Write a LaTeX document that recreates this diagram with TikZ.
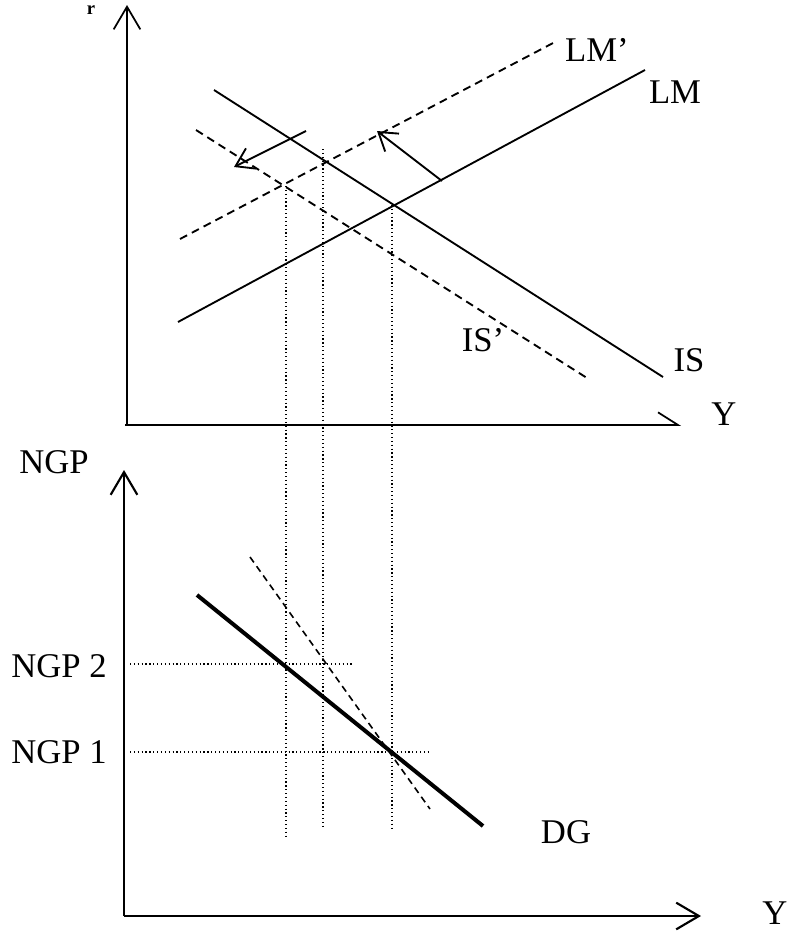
\documentclass[tikz,border=0pt]{standalone}
\usepackage{fontspec}
\setmainfont{Liberation Serif}
\usetikzlibrary{arrows.meta}

\begin{document}
\begin{tikzpicture}[x=0.75pt, y=-0.75pt,
        axis/.style={line width=1.3pt, -{Straight Barb[length=17pt, width=20pt]}},
        halfaxis/.style={line width=1.3pt, -{Straight Barb[harpoon, length=15pt, width=19pt]}},
        curve/.style={line width=1.4pt},
        shifted/.style={line width=1.4pt, dash pattern=on 6pt off 4pt},
        move/.style={line width=1.4pt, -{Straight Barb[length=13pt, width=17pt]}},
        guide/.style={line width=0.9pt, dotted},
        lbl/.style={font=\fontsize{26}{30}\selectfont, inner sep=0pt}
    ]
        \useasboundingbox (0,0) rectangle (804,935);

        % IS-LM panel
        \coordinate (o1) at (127,425);
        \coordinate (rtop) at (127,5);
        \coordinate (yend1) at (681,425);
        \draw[axis] (o1) -- (rtop);
        \draw[halfaxis] (125,425) -- (yend1);
        \node[inner sep=0pt, font=\bfseries\fontsize{14}{16}\selectfont] (rlbl) at (91,10) {r};
        \node[lbl] (ylbl1) at (724,414) {Y};

        \coordinate (lmA) at (178,322);
        \coordinate (lmB) at (645,70);
        \coordinate (lm2A) at (180,239);
        \coordinate (lm2B) at (555,42);
        \coordinate (isA) at (214,90);
        \coordinate (isB) at (663,377);
        \coordinate (is2A) at (196,130);
        \coordinate (is2B) at (587,378);
        \draw[curve] (lmA) -- (lmB);
        \draw[shifted] (lm2A) -- (lm2B);
        \draw[curve] (isA) -- (isB);
        \draw[shifted] (is2A) -- (is2B);
        \node[lbl] (lm) at (675,92) {LM};
        \node[lbl] (lm2) at (597,50) {LM'};
        \node[lbl] (is) at (689,360) {IS};
        \node[lbl] (is2) at (483,340) {IS'};

        \coordinate (mvA) at (442,181);
        \coordinate (mvB) at (377,131);
        \coordinate (mvC) at (306,131);
        \coordinate (mvD) at (234,167);
        \draw[move] (mvA) -- (mvB);
        \draw[move] (mvC) -- (mvD);

        % equilibria, carried down
        \coordinate (e0) at (392,205);
        \coordinate (e1) at (323,149);
        \coordinate (e2) at (286,186);
        \coordinate (f0) at (392,829);
        \coordinate (f1) at (323,826);
        \coordinate (f2) at (286,838);
        \draw[guide] (e0) -- (f0);
        \draw[guide] (e1) -- (f1);
        \draw[guide] (e2) -- (f2);

        % demand panel
        \coordinate (o2) at (124,916);
        \coordinate (ptop) at (124,470);
        \coordinate (yend2) at (701,916);
        \draw[axis, line width=1.6pt] (o2) -- (ptop);
        \draw[axis, line width=1.6pt] (o2) -- (yend2);
        \node[lbl] (ngp) at (54,462) {NGP};
        \node[lbl] (ylbl2) at (775,913) {Y};

        \coordinate (dgA) at (197,595);
        \coordinate (dgB) at (483,826);
        \coordinate (dg2A) at (250,557);
        \coordinate (dg2B) at (430,809);
        \draw[line width=3pt] (dgA) -- (dgB);
        \draw[line width=1.2pt, dash pattern=on 5pt off 3.5pt] (dg2A) -- (dg2B);
        \node[lbl] (dg) at (566,832) {DG};

        \coordinate (p2A) at (130,664);
        \coordinate (p2B) at (353,664);
        \coordinate (p1A) at (130,752);
        \coordinate (p1B) at (430,752);
        \draw[guide] (p2A) -- (p2B);
        \draw[guide] (p1A) -- (p1B);
        \node[lbl] (ngp2) at (59,666) {NGP 2};
        \node[lbl] (ngp1) at (59,752) {NGP 1};
    \end{tikzpicture}
\end{document}
